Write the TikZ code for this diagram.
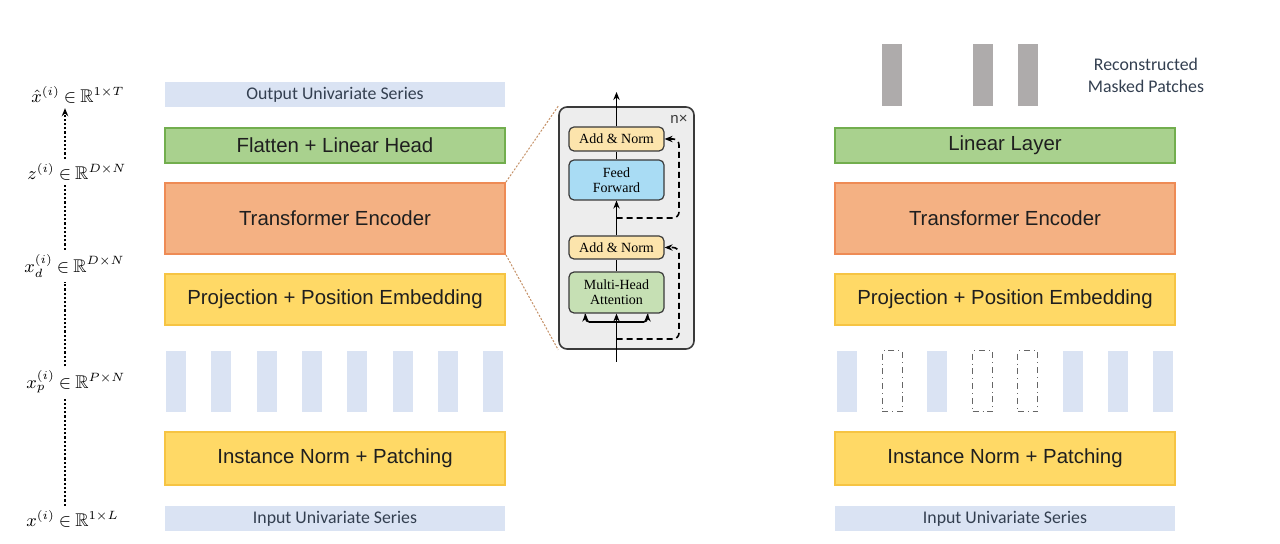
\documentclass[tikz,border=0pt]{standalone}
\usepackage{amsfonts}
\usepackage{fontspec}
\setmainfont{Liberation Sans}
\newfontfamily\calibrifont{Carlito}
\newfontfamily\timesfont{Liberation Serif}
\usetikzlibrary{arrows.meta}

\newcommand{\elemof}{\mskip4mu{\in}\mskip4mu}

\definecolor{seriesblue}{HTML}{DAE3F3}
\definecolor{seriestext}{HTML}{333F50}
\definecolor{textdark}{HTML}{1F1F1F}
\definecolor{headgreen}{HTML}{A9D18E}
\definecolor{headedge}{HTML}{72AE4E}
\definecolor{encorange}{HTML}{F4B183}
\definecolor{encedge}{HTML}{EE8B55}
\definecolor{projyellow}{HTML}{FFD966}
\definecolor{projedge}{HTML}{F6C443}
\definecolor{recgrey}{HTML}{AEABAB}
\definecolor{insetgrey}{HTML}{EDEDED}
\definecolor{insetedge}{HTML}{3A3A3A}
\definecolor{addnorm}{HTML}{FCE4AC}
\definecolor{ffblue}{HTML}{A9DCF4}
\definecolor{mhagreen}{HTML}{C6E0B4}
\definecolor{zoomcolor}{HTML}{C49066}

\tikzset{
  layer/.style={line width=1pt, minimum width=170pt, inner sep=0pt, text=textdark,
    font=\fontsize{10.2}{12}\selectfont},
  serieslabel/.style={fill=seriesblue, minimum width=170pt, minimum height=12.5pt,
    inner sep=0pt, text=seriestext, font=\calibrifont\fontsize{8.9}{10}\selectfont},
  patch/.style={fill=seriesblue, minimum width=10pt, minimum height=30.5pt, inner sep=0pt},
  maskedpatch/.style={draw=gray!80!black, dash dot, line width=0.5pt,
    minimum width=10pt, minimum height=30.5pt, inner sep=0pt},
  recpatch/.style={fill=recgrey, minimum width=10pt, minimum height=31pt, inner sep=0pt},
  block/.style={draw=insetedge, line width=0.6pt, rounded corners=2.5pt,
    minimum width=47.5pt, inner sep=0pt, align=center,
    font=\timesfont\fontsize{7}{7.6}\selectfont},
  mathlabel/.style={anchor=west, inner sep=2pt, font=\fontsize{9.2}{11}\selectfont},
  axisline/.style={densely dotted, line width=1.1pt},
  flow/.style={line width=0.8pt},
  residual/.style={flow, dash pattern=on 3pt off 2pt, rounded corners=3pt},
  zoomline/.style={zoomcolor, line width=0.5pt, dash pattern=on 1pt off 0.8pt},
}

\begin{document}
\begin{tikzpicture}[x=0.5pt,y=-0.5pt,>={Stealth[length=4pt,width=3.2pt]}]
\useasboundingbox (0,0) rectangle (1280,544);

\node[mathlabel] (xhat) at (27,95) {$\hat{x}^{(i)}\elemof\mathbb{R}^{1\times T}$};
\node[mathlabel] (zlab) at (23,172) {$z^{(i)}\elemof\mathbb{R}^{D\times N}$};
\node[mathlabel] (xdlab) at (20,266) {$x_d^{(i)}\elemof\mathbb{R}^{D\times N}$};
\node[mathlabel] (xplab) at (22,382) {$x_p^{(i)}\elemof\mathbb{R}^{P\times N}$};
\node[mathlabel] (xlab) at (22,519) {$x^{(i)}\elemof\mathbb{R}^{1\times L}$};
\coordinate (axisx) at (65,0);
\draw[axisline] (xlab.north -| axisx) -- (xplab.south -| axisx);
\draw[axisline] (xplab.north -| axisx) -- (xdlab.south -| axisx);
\draw[axisline] (xdlab.north -| axisx) -- (zlab.south -| axisx);
\draw[axisline,->] (zlab.north -| axisx) -- (xhat.south -| axisx);

\node[serieslabel] (outs) at (335,94.5) {Output Univariate Series};
\node[layer, draw=headedge, fill=headgreen, minimum height=17.5pt] (head) at (335,145.5) {Flatten + Linear Head};
\node[layer, draw=encedge, fill=encorange, minimum height=35.5pt] (enc) at (335,218.5) {Transformer Encoder};
\node[layer, draw=projedge, fill=projyellow, minimum height=25.5pt] (proj) at (335,299.5) {Projection + Position Embedding};
\foreach \i in {1,...,8}
  \node[patch] (lp\i) at ({176+45.3*(\i-1)},381.5) {};
\node[layer, draw=projedge, fill=projyellow, minimum height=26.5pt] (inorm) at (335,458.5) {Instance Norm + Patching};
\node[serieslabel] (ins) at (335,518.5) {Input Univariate Series};

\node[draw=insetedge, fill=insetgrey, line width=0.8pt, rounded corners=4pt,
  minimum width=67.5pt, minimum height=121pt, inner sep=0pt] (inset) at (626.5,228) {};
\draw[zoomline] (enc.north east) -- (inset.north west);
\draw[zoomline] (enc.south east) -- (inset.south west);
\node[text=insetedge, font=\fontsize{7.5}{8}\selectfont] (nx) at (679,119) {n×};
\node[block, fill=addnorm, minimum height=12pt] (an2) at (616.5,139) {Add \& Norm};
\node[block, fill=ffblue, minimum height=20pt] (ff) at (616.5,180) {Feed\\Forward};
\node[block, fill=addnorm, minimum height=11.5pt] (an1) at (616.5,247.5) {Add \& Norm};
\node[block, fill=mhagreen, minimum height=20.5pt] (mha) at (616.5,292.5) {Multi-Head\\Attention};
\coordinate (encin) at (616.5,362);
\coordinate (encout) at (616.5,92);
\coordinate (split) at (616.5,322);
\coordinate (res1) at (616.5,339);
\coordinate (res2) at (616.5,218);
\draw[flow] (encin) -- (split);
\draw[flow,->] (split) -- (mha.south);
\draw[flow,->,rounded corners=2pt] (split) -| ([xshift=-15.5pt]mha.south);
\draw[flow,->,rounded corners=2pt] (split) -| ([xshift=15.5pt]mha.south);
\draw[flow] (mha.north) -- (an1.south);
\draw[flow,->] (an1.north) -- (ff.south);
\draw[flow] (ff.north) -- (an2.south);
\draw[flow,->] (an2.north) -- (encout);
\draw[residual,->] (res1) -- ++(31.25pt,0) |- (an1.east);
\draw[residual,->] (res2) -- ++(31.25pt,0) |- (an2.east);

\foreach \i in {2,4,5}
  \node[recpatch] (rec\i) at ({847+45.2*(\i-1)},75) {};
\node[align=center, text=seriestext, font=\calibrifont\fontsize{8.9}{11}\selectfont] (reclab) at (1146,75) {Reconstructed\\Masked Patches};
\node[layer, draw=headedge, fill=headgreen, minimum height=17.5pt] (linl) at (1005,145.5) {Linear Layer};
\node[layer, draw=encedge, fill=encorange, minimum height=35.5pt] (renc) at (1005,218.5) {Transformer Encoder};
\node[layer, draw=projedge, fill=projyellow, minimum height=25.5pt] (rproj) at (1005,299.5) {Projection + Position Embedding};
\foreach \i/\s in {1/patch,2/maskedpatch,3/patch,4/maskedpatch,5/maskedpatch,6/patch,7/patch,8/patch}
  \node[\s] (rp\i) at ({847+45.2*(\i-1)},381.5) {};
\node[layer, draw=projedge, fill=projyellow, minimum height=26.5pt] (rinorm) at (1005,458.5) {Instance Norm + Patching};
\node[serieslabel] (rins) at (1005,518.5) {Input Univariate Series};
\end{tikzpicture}
\end{document}
